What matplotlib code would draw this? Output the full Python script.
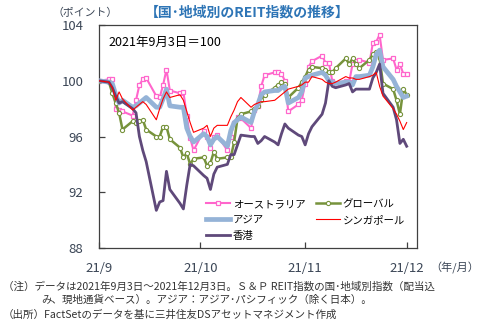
import numpy as np
import pandas as pd
import matplotlib
matplotlib.use('Agg')
import matplotlib.pyplot as plt
import matplotlib.dates as mdates

plt.rcParams['font.family'] = ['Noto Sans CJK JP', 'DejaVu Sans']

# business days, 2021-09-03 .. 2021-12-03
dates = pd.bdate_range('2021-09-03', '2021-12-03')

australia = [100.0, 100.1, 100.1, 98.0, 97.9, 97.8, 97.5, 98.6, 99.7, 100.1, 100.2,
             98.9, 98.8, 99.7, 100.8, 99.3, 99.1, 99.2, 97.5, 95.9, 95.0,
             96.4, 96.0, 95.2, 96.0, 96.1, 95.0, 96.0, 97.0, 97.4, 97.3,
             96.6, 97.9, 98.2, 99.6, 100.4, 100.6, 100.6, 100.5, 100.0, 97.8,
             98.3, 98.6, 99.8, 101.0, 101.4, 101.8, 101.3, 101.3, 100.0, 99.8,
             100.0, 99.9, 101.2, 101.4, 101.5, 101.3, 102.7, 102.8, 103.3, 101.5,
             101.6, 100.8, 101.2, 100.5, 100.5]
asia = [100.0, 99.9, 99.8, 99.0, 98.4, 98.6, 98.1, 98.2, 98.4, 98.6, 98.8,
        98.1, 98.1, 98.7, 99.4, 98.2, 98.1, 98.1, 96.6, 96.0, 95.6,
        96.2, 96.0, 95.4, 95.8, 96.0, 95.3, 96.4, 97.0, 97.2, 97.4,
        97.0, 97.8, 98.3, 99.0, 99.2, 99.3, 99.3, 99.5, 99.6, 98.4,
        98.8, 99.2, 100.2, 100.3, 100.4, 100.6, 100.4, 100.0, 99.9, 99.8,
        99.9, 99.9, 99.7, 100.3, 100.3, 100.4, 101.0, 101.9, 102.2, 101.0,
        100.1, 99.6, 99.2, 98.8, 98.9]
hongkong = [100.0, 99.9, 99.5, 98.9, 98.4, 98.5, 98.0, 97.7, 96.0, 95.0, 94.2,
            90.7, 91.3, 91.4, 93.5, 92.2, 91.2, 90.8, 92.5, 94.0, 93.9,
            93.2, 93.0, 92.2, 93.3, 93.8, 94.0, 94.7, 94.7, 95.4, 96.1,
            96.0, 96.0, 95.5, 95.7, 96.0, 95.6, 95.4, 96.2, 96.9, 96.6,
            96.1, 96.0, 95.4, 96.2, 96.7, 97.6, 98.4, 100.0, 99.6, 99.5,
            99.7, 99.8, 99.2, 99.4, 99.4, 99.4, 100.2, 100.6, 101.2, 99.1,
            98.1, 97.2, 95.5, 95.8, 95.3]
global_ = [100.0, 99.9, 99.1, 98.4, 97.7, 96.5, 97.1, 97.0, 97.1, 97.2, 96.5,
           96.0, 96.0, 96.7, 96.7, 95.8, 95.2, 94.5, 94.8, 94.0, 94.4,
           94.5, 93.9, 94.1, 94.9, 94.4, 94.5, 94.5, 95.6, 97.3, 97.6,
           97.8, 98.0, 98.2, 98.6, 99.0, 99.5, 99.7, 99.9, 99.8, 98.8,
           99.5, 99.9, 100.3, 100.8, 101.0, 100.9, 100.8, 100.6, 100.6, 100.9,
           101.6, 101.2, 101.6, 101.2, 100.9, 101.5, 101.9, 102.1, 101.6, 99.8,
           99.4, 98.6, 97.6, 99.4, 99.0]
singapore = [100.0, 99.9, 99.5, 98.6, 99.2, 98.7, 97.9, 98.1, 98.3, 98.5, 98.3,
             97.2, 98.0, 98.7, 99.2, 98.8, 99.0, 98.6, 97.8, 97.0, 96.3,
             96.6, 96.8, 96.0, 96.6, 96.8, 96.8, 97.4, 97.9, 98.5, 98.8,
             98.1, 98.3, 98.4, 98.5, 98.5, 98.6, 98.8, 99.0, 99.2, 99.4,
             99.6, 99.7, 99.9, 99.9, 100.3, 100.1, 99.9, 99.8, 99.8, 99.9,
             100.3, 100.2, 100.2, 100.1, 100.1, 100.3, 100.4, 100.6, 99.6, 98.9,
             98.0, 97.6, 97.1, 96.5, 97.0]

tick_dates = pd.to_datetime(['2021-09-03', '2021-10-03', '2021-11-03', '2021-12-03'])
tick_labels = ['21/9', '21/10', '21/11', '21/12']
yticks = [88, 92, 96, 100, 104]

fig = plt.figure(figsize=(4.99, 3.25), dpi=100)
ax = fig.add_axes([0.198, 0.237, 0.638, 0.686])

ax.plot(dates, australia, color='#ff66cc', lw=1.5, marker='s', ms=3.2,
        mfc='white', mec='#ff66cc', mew=0.9, label='オーストラリア', zorder=3)
ax.plot(dates, asia, color='#95b3d7', lw=3.4, label='アジア', zorder=4)
ax.plot(dates, hongkong, color='#5f497a', lw=2.0, label='香港', zorder=5)
ax.plot(dates, global_, color='#77933c', lw=1.8, marker='o', ms=3.0,
        mfc='white', mec='#77933c', mew=0.8, label='グローバル', zorder=3)
ax.plot(dates, singapore, color='#ff0000', lw=0.8, label='シンガポール', zorder=6)

ax.set_ylim(88, 104)
ax.set_yticks(yticks)
ax.set_xlim(mdates.date2num(dates[0]), mdates.date2num(dates[0]) + 94.1)
ax.set_xticks(tick_dates)
ax.set_xticklabels(tick_labels)

for s in ax.spines.values():
    s.set_color('#404040')
    s.set_linewidth(0.9)
ax.tick_params(axis='both', direction='in', length=4, width=0.9, color='#404040',
               labelsize=9.5, labelcolor='#3b4656')
ax.tick_params(axis='x', pad=10)
ax.tick_params(axis='y', pad=11)

ax.text(0.03, 0.92, '2021年9月3日＝100', transform=ax.transAxes, fontsize=9,
        va='center', ha='left', color='black')

ax.legend(loc='lower right', bbox_to_anchor=(0.985, 0.0), ncol=2, frameon=False,
          fontsize=7.5, handlelength=2.3, handletextpad=0.3, columnspacing=1.0,
          labelspacing=0.55, borderpad=0.2)

fig.text(0.105, 0.962, '（ポイント）', fontsize=7.8, ha='left', va='center', color='#3b4656')
fig.text(0.495, 0.962, '【国･地域別のREIT指数の推移】', fontsize=10, fontweight='bold',
         ha='center', va='center', color='#2e75b6')
fig.text(0.912, 0.175, '（年/月）', fontsize=8, ha='center', va='center', color='#3b4656')

fig.text(0.006, 0.118, '（注）データは2021年9月3日～2021年12月3日。Ｓ＆Ｐ REIT指数の国･地域別指数（配当込',
         fontsize=7.6, ha='left', va='center', color='#333333')
fig.text(0.082, 0.077, 'み、現地通貨ベース）。アジア：アジア･パシフィック（除く日本）。',
         fontsize=7.6, ha='left', va='center', color='#333333')
fig.text(0.006, 0.033, '（出所）FactSetのデータを基に三井住友DSアセットマネジメント作成',
         fontsize=7.6, ha='left', va='center', color='#333333')

fig.savefig('out.png', dpi=100)
